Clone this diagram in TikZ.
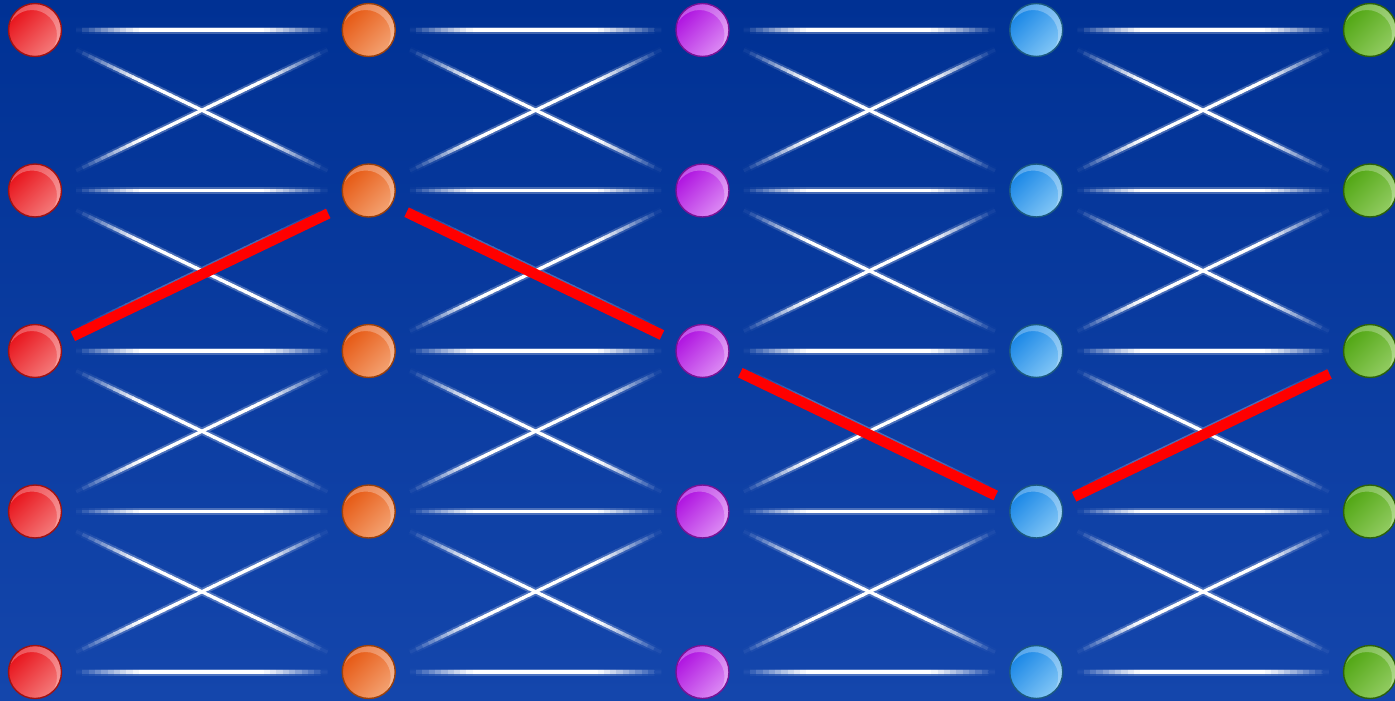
\documentclass[tikz,border=0pt]{standalone}
\usetikzlibrary{calc}
\definecolor{cbgtop}{HTML}{003194}
\definecolor{cbgbot}{HTML}{1446AC}
\definecolor{cred}{HTML}{E8121A}
\definecolor{credl}{HTML}{F47A7A}
\definecolor{credd}{HTML}{A01212}
\definecolor{corange}{HTML}{E65812}
\definecolor{corangel}{HTML}{F4A272}
\definecolor{coranged}{HTML}{9A400C}
\definecolor{cpurple}{HTML}{AE10E0}
\definecolor{cpurplel}{HTML}{DC8AF4}
\definecolor{cpurpled}{HTML}{7A1296}
\definecolor{cblue}{HTML}{1886E6}
\definecolor{cbluel}{HTML}{82C6F6}
\definecolor{cblued}{HTML}{1C5A80}
\definecolor{cgreen}{HTML}{50A612}
\definecolor{cgreenl}{HTML}{92CC62}
\definecolor{cgreend}{HTML}{2C620A}
\newdimen\gydim
\tikzset{
  ball/.style={circle, minimum size=1.06cm, inner sep=0pt, draw=#1d, line width=0.8pt,
    top color=#1, bottom color=#1l, shading angle=45,
    path picture={\fill[white, opacity=0.28, even odd rule]
      (path picture bounding box.center) circle (0.56cm)
      ($(path picture bounding box.center)+(-0.06cm,-0.1cm)$) circle (0.5cm);}},
  glowcore/.style={line width=0.065cm},
  glowhalo/.style={line width=0.14cm},
  redlink/.style={draw=red, line width=0.21cm, shorten <=0.84cm, shorten >=0.9cm,
    transform canvas={yshift=-0.07cm}},
}
% white link between two balls, fading into the background at both ends
% #3 = style, #4 = strength
\newcommand{\glowlink}[4]{%
  \path ($(#1)!0.125!(#2)$) coordinate (gA) ($(#2)!0.125!(#1)$) coordinate (gB);
  \foreach \k in {1,...,40} {
    \pgfmathsetmacro\ta{(\k-1)/40-0.002}
    \pgfmathsetmacro\tb{\k/40+0.002}
    \path ($(gA)!{(\k-0.5)/40}!(gB)$) coordinate (gM);
    \pgfextracty{\gydim}{\pgfpointanchor{gM}{center}}
    \pgfmathsetmacro\pbg{min(100,max(0,-\gydim/3.9834))}
    \pgfmathsetmacro\pw{#4*100*min(1,1.4*sin(180*(\k-0.5)/40))}
    \colorlet{bghere}{cbgbot!\pbg!cbgtop}
    \draw[#3, draw=white!\pw!bghere] ($(gA)!\ta!(gB)$) -- ($(gA)!\tb!(gB)$);
  }%
}

\begin{document}
\begin{tikzpicture}[x=0.02cm, y=-0.02cm]
  \fill[top color=cbgtop, bottom color=cbgbot] (0,0) rectangle (1395,700);
  \useasboundingbox (0,0) rectangle (1395,700);
  % ball places
  \foreach \c in {0,...,4}
    \foreach \r in {0,...,4}
      \coordinate (b\c\r) at ({35+333.75*\c}, {30+160.5*\r});
  % white links: halos first, then cores
  \foreach \sty/\str in {glowhalo/0.25, glowcore/1} {
    \foreach \c in {0,...,3} {
      \pgfmathtruncatemacro\d{\c+1}
      \foreach \r in {0,...,4} {\glowlink{b\c\r}{b\d\r}{\sty}{\str}}
      \foreach \r in {0,...,3} {
        \pgfmathtruncatemacro\s{\r+1}
        \glowlink{b\c\r}{b\d\s}{\sty}{\str}
        \glowlink{b\c\s}{b\d\r}{\sty}{\str}
      }
    }
  }
  % red path
  \draw[redlink] (b02) -- (b11);
  \draw[redlink] (b11) -- (b22);
  \draw[redlink] (b22) -- (b33);
  \draw[redlink] (b33) -- (b42);
  % balls
  \foreach \c/\col in {0/cred, 1/corange, 2/cpurple, 3/cblue, 4/cgreen}
    \foreach \r in {0,...,4}
      \node[ball=\col] (n\c\r) at (b\c\r) {};
\end{tikzpicture}
\end{document}
